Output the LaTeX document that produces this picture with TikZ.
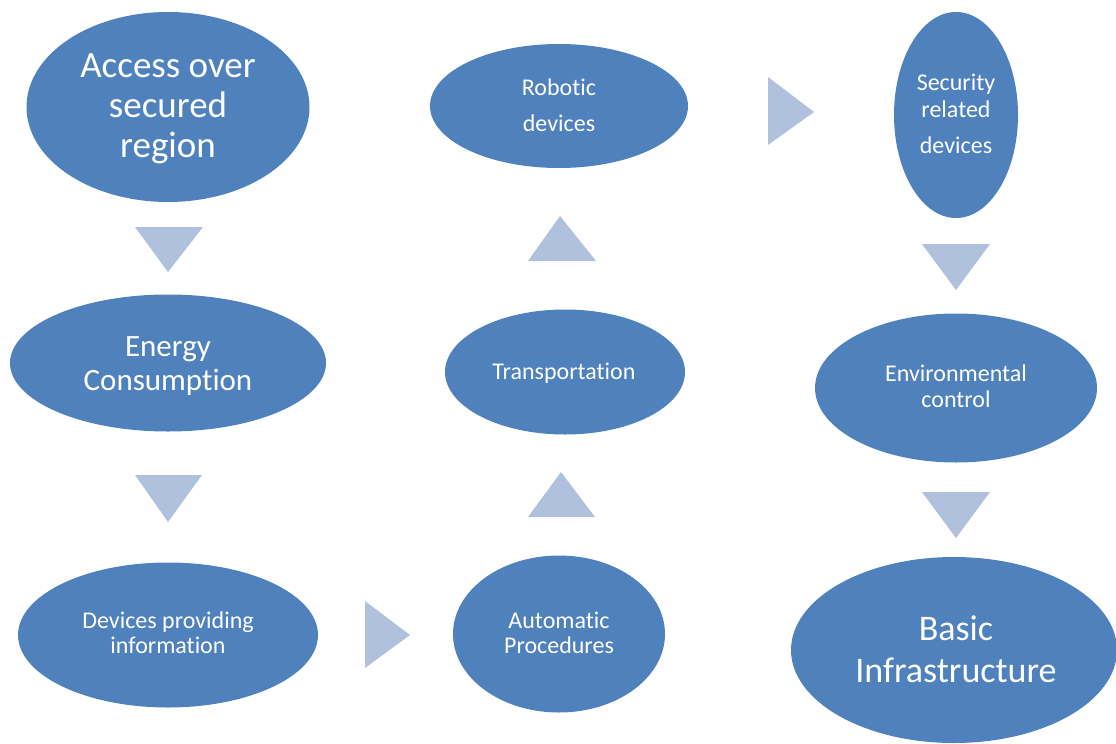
\documentclass[tikz,border=0pt]{standalone}
\usepackage{fontspec}
\setmainfont{Carlito}[Ligatures={NoCommon,NoContextual}]
\usetikzlibrary{shapes.geometric}
\definecolor{ellblue}{RGB}{79,129,189}
\definecolor{triblue}{RGB}{176,193,221}
\tikzset{
  ell/.style={ellipse, fill=ellblue, draw=none, inner sep=0pt},
  tri/.style={fill=triblue, draw=none},
  lbl/.style={anchor=base, text=white, inner sep=0pt},
  big/.style={lbl, font=\fontsize{37}{40}\selectfont},
  mid/.style={lbl, font=\fontsize{31}{34}\selectfont},
  sml/.style={lbl, font=\fontsize{24}{25}\selectfont},
}
\begin{document}
\begin{tikzpicture}[x=1pt, y=-1pt]
\useasboundingbox (0,0) rectangle (1116,744);
% ellipses
\node[ell, minimum width=283pt, minimum height=190pt] (e1) at (168,107) {};
\node[ell, minimum width=316pt, minimum height=137pt] (e2) at (168,363) {};
\node[ell, minimum width=300pt, minimum height=145pt] (e3) at (168,635) {};
\node[ell, minimum width=212pt, minimum height=157pt] (e4) at (559,634) {};
\node[ell, minimum width=240pt, minimum height=125pt] (e5) at (565,372) {};
\node[ell, minimum width=258pt, minimum height=124pt] (e6) at (559,106) {};
\node[ell, minimum width=124pt, minimum height=206pt] (e7) at (956,115) {};
\node[ell, minimum width=282pt, minimum height=149pt] (e8) at (956,388) {};
\node[ell, minimum width=326pt, minimum height=186pt] (e9) at (954,650) {};
% labels
\node[big] (t1a) at (168,77) {Access over};
\node[big] (t1b) at (168,117) {secured};
\node[big] (t1c) at (168,157) {region};
\node[mid] (t2a) at (168,356) {Energy};
\node[mid] (t2b) at (168,390) {Consumption};
\node[sml] (t3a) at (168,628) {Devices providing};
\node[sml] (t3b) at (168,653) {information};
\node[sml] (t4a) at (559,628) {Automatic};
\node[sml] (t4b) at (559,653) {Procedures};
\node[sml] (t5a) at (564,379) {Transportation};
\node[sml] (t6a) at (559,95) {Robotic};
\node[sml] (t6b) at (559,131) {devices};
\node[sml] (t7a) at (956,90) {Security};
\node[sml] (t7b) at (956,117) {related};
\node[sml] (t7c) at (956,153) {devices};
\node[sml] (t8a) at (956,381) {Environmental};
\node[sml] (t8b) at (956,407) {control};
\node[big, font=\fontsize{36}{40}\selectfont] (t9a) at (956,640) {Basic};
\node[big, font=\fontsize{36}{40}\selectfont] (t9b) at (956,682) {Infrastructure};
% triangles
\fill[tri] (135,227) -- (203,227) -- (168,272) -- cycle;
\fill[tri] (135,475) -- (202,475) -- (168,522) -- cycle;
\fill[tri] (365,601) -- (410,635) -- (365,668) -- cycle;
\fill[tri] (528,517) -- (595,517) -- (561,472) -- cycle;
\fill[tri] (528,261) -- (596,261) -- (560,216) -- cycle;
\fill[tri] (768,77) -- (814,112) -- (768,145) -- cycle;
\fill[tri] (922,244) -- (990,244) -- (956,290) -- cycle;
\fill[tri] (922,492) -- (990,492) -- (956,538) -- cycle;
\end{tikzpicture}
\end{document}
